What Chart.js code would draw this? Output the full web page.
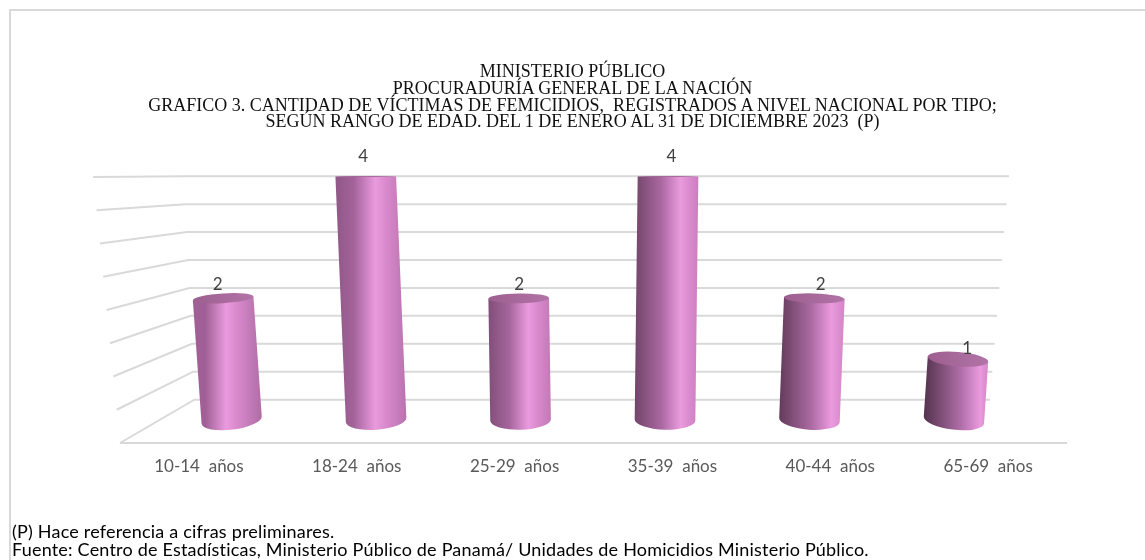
<!DOCTYPE html>
<html>
<head>
<meta charset="utf-8">
<script src="https://cdn.jsdelivr.net/npm/chart.js@4.4.1/dist/chart.umd.min.js"></script>
<style>
  html, body { margin: 0; padding: 0; background: #fff; }
  #wrap { position: relative; width: 1145px; height: 560px; overflow: hidden; }
  #frame { position: absolute; left: 9px; top: 9px; width: 1140px; height: 560px;
           border-top: 2px solid #d9d9d9; border-left: 2px solid #d9d9d9; }
  #titulo { position: absolute; left: 0; width: 1145px; top: 63px; text-align: center;
            font-family: "Liberation Serif", serif; font-size: 18px; line-height: 16.8px; color: #111; }
  .nota { position: absolute; left: 12px; font-family: "Lato", sans-serif; font-size: 18px; letter-spacing: 0.2px;
          line-height: 18px; color: #000; white-space: nowrap; }
  canvas { position: absolute; left: 0; top: 0; }
</style>
</head>
<body>
<div id="wrap">
  <div id="frame"></div>
  <canvas id="grafico" width="1145" height="560"></canvas>
  <div id="titulo">MINISTERIO PÚBLICO<br>PROCURADURÍA GENERAL DE LA NACIÓN<br>GRAFICO 3. CANTIDAD DE VÍCTIMAS DE FEMICIDIOS,&nbsp; REGISTRADOS A NIVEL NACIONAL POR TIPO;<br>SEGÚN RANGO DE EDAD. DEL 1 DE ENERO AL 31 DE DICIEMBRE 2023&nbsp; (P)</div>
  <div class="nota" style="top:522px">(P) Hace referencia a cifras preliminares.</div>
  <div class="nota" style="top:540px">Fuente: Centro de Estadísticas, Ministerio Público de Panamá/ Unidades de Homicidios Ministerio Público.</div>
</div>
<script>
var rangos = ["10-14  años", "18-24  años", "25-29  años", "35-39  años", "40-44  años", "65-69  años"];
var victimas = [2, 4, 2, 4, 2, 1];
var escalaMax = 4;
var pasoGrilla = 0.5;

// perspectiva aproximada del grafico 3D de Excel
var VP = {x: 585, y: 172};
function proyectar(px, py, d, baseY) {
    var s = 1 - 0.16 * d;
    var x = VP.x + (px - VP.x) * s;
    var y = VP.y + (py - VP.y) * s;
    var yb = VP.y + (baseY - VP.y) * s;
    var h = yb - y;
    var cx, c;
    if (d <= 0.53) { cx = 600; c = 0.00021 - 0.00002 * d / 0.53; }
    else { var t = (d - 0.53) / 0.47; cx = 600 - 134 * t; c = 0.00019 - 0.000027 * t; }
    x += (x - cx) * c * h;
    return {x: x, y: y};
}

function mezclar(a, b, t) {
    var r = Math.round(a[0] + (b[0] - a[0]) * t);
    var g = Math.round(a[1] + (b[1] - a[1]) * t);
    var bl = Math.round(a[2] + (b[2] - a[2]) * t);
    return "rgb(" + r + "," + g + "," + bl + ")";
}

var paredes = {
    id: "paredes",
    beforeDatasetsDraw: function(chart) {
        var ctx = chart.ctx;
        var ys = chart.scales.y;
        var area = chart.chartArea;
        var base = ys.getPixelForValue(0);
        ctx.save();
        ctx.strokeStyle = "#d9d9d9";
        ctx.lineWidth = 2;
        ys.ticks.forEach(function(tk) {
            var py = ys.getPixelForValue(tk.value);
            var f = proyectar(area.left, py, 0, base);
            var bL = proyectar(area.left, py, 1, base);
            var bR = proyectar(area.right, py, 1, base);
            ctx.beginPath();
            ctx.moveTo(f.x, f.y);
            ctx.lineTo(bL.x, bL.y);
            ctx.lineTo(bR.x, bR.y);
            ctx.stroke();
        });
        var a = proyectar(area.left, base, 0, base);
        var b = proyectar(area.right, base, 0, base);
        ctx.beginPath();
        ctx.moveTo(a.x, a.y);
        ctx.lineTo(b.x, b.y);
        ctx.stroke();
        ctx.restore();
    }
};

var cilindros = {
    id: "cilindros",
    afterDatasetsDraw: function(chart) {
        var ctx = chart.ctx;
        var meta = chart.getDatasetMeta(0);
        var base = chart.scales.y.getPixelForValue(0);
        var dc = 0.53;
        ctx.save();
        meta.data.forEach(function(bar, i) {
            var top = proyectar(bar.x, bar.y, dc, base);
            var bot = proyectar(bar.x, base, dc, base);
            var rx = bar.width * (1 - 0.16 * dc) / 2;
            var ryT = Math.max(0.5, rx * (top.y - 175) * 0.0013);
            var ryB = Math.max(0.5, rx * (bot.y - 175) * 0.0013);
            var rotT = (top.x - 600) * (top.y - 175) * 1.3e-6;
            var rotB = (bot.x - 600) * (bot.y - 175) * 1.4e-6;
            var tL = {x: top.x - rx * Math.cos(rotT), y: top.y - rx * Math.sin(rotT)};
            var tR = {x: top.x + rx * Math.cos(rotT), y: top.y + rx * Math.sin(rotT)};
            var bL = {x: bot.x - rx * Math.cos(rotB), y: bot.y - rx * Math.sin(rotB)};

            // sombreado segun la posicion horizontal
            var p = Math.min(1, Math.max(0, (bot.x - 230) / 730));
            var izq = mezclar([160, 96, 150], [82, 50, 76], p);
            var der = mezclar([176, 108, 166], [222, 138, 206], p);
            var brillo = 0.48 + 0.4 * p;
            var x0 = Math.min(tL.x, bL.x), x1 = Math.max(tR.x, bot.x + rx);
            var grad = ctx.createLinearGradient(x0, 0, x1, 0);
            grad.addColorStop(0, izq);
            grad.addColorStop(Math.max(0.05, brillo - 0.3), mezclar([160, 96, 150], [176, 110, 168], p));
            grad.addColorStop(brillo, "#ea9ade");
            grad.addColorStop(Math.min(0.97, brillo + 0.15), "#d98acd");
            grad.addColorStop(1, der);

            ctx.beginPath();
            ctx.moveTo(tL.x, tL.y);
            ctx.lineTo(bL.x, bL.y);
            ctx.ellipse(bot.x, bot.y, rx, ryB, rotB, Math.PI, 0, true);
            ctx.lineTo(tR.x, tR.y);
            ctx.closePath();
            ctx.fillStyle = grad;
            ctx.fill();

            var gradTapa = ctx.createLinearGradient(tL.x, 0, tR.x, 0);
            gradTapa.addColorStop(0, "#9c5f90");
            gradTapa.addColorStop(1, "#b274a6");
            ctx.beginPath();
            ctx.ellipse(top.x, top.y, rx, ryT, rotT, 0, Math.PI * 2);
            ctx.fillStyle = gradTapa;
            ctx.fill();

            // etiqueta de valor
            ctx.fillStyle = "#404040";
            ctx.font = "17px Lato, sans-serif";
            ctx.textAlign = "center";
            ctx.textBaseline = "middle";
            var lx = top.x + (top.x - 600) * 0.02 + 2;
            var ly = top.y - 20 + (top.y - 176) * 0.05;
            ctx.fillText(String(victimas[i]), lx, ly);
        });
        ctx.restore();
    }
};

new Chart(document.getElementById("grafico"), {
    type: "bar",
    data: {
        labels: rangos,
        datasets: [{
            label: "Víctimas",
            data: victimas,
            backgroundColor: "rgba(0,0,0,0)",
            borderWidth: 0,
            categoryPercentage: 1,
            barPercentage: 0.42
        }]
    },
    options: {
        responsive: false,
        animation: false,
        layout: { padding: { left: 120, right: 78, top: 177, bottom: 77 } },
        plugins: { legend: { display: false }, tooltip: { enabled: false }, title: { display: false } },
        scales: {
            y: {
                display: false,
                min: 0,
                max: escalaMax,
                ticks: { stepSize: pasoGrilla }
            },
            x: {
                grid: { display: false, drawTicks: false },
                border: { display: false },
                ticks: { color: "#595959", font: { family: "Lato, sans-serif", size: 17 }, padding: 13, maxRotation: 0 },
                afterFit: function(scale) { scale.height = 40; }
            }
        }
    },
    plugins: [paredes, cilindros]
});
</script>
</body>
</html>
